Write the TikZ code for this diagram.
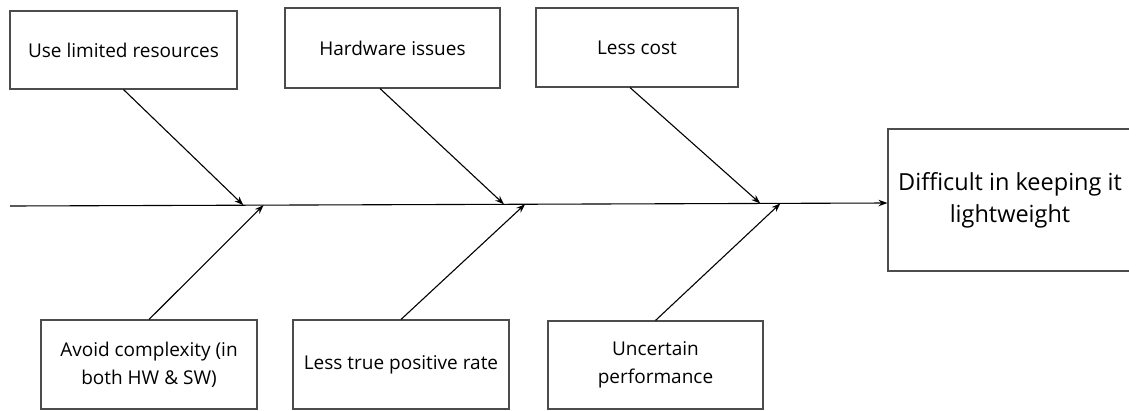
\documentclass[tikz,border=0pt]{standalone}
\usepackage{fontspec}
\setmainfont{Open Sans}
\usetikzlibrary{arrows.meta,positioning}

\begin{document}
\begin{tikzpicture}[
    x=1pt, y=-1pt,
    box/.style={rectangle, draw=black!70, line width=1.1pt, align=center, inner sep=0pt, font=\fontsize{19}{28}\selectfont},
    arrow/.style={->,>={Stealth[length=9pt,width=6.5pt]}, line width=1.1pt}
]
    \useasboundingbox (0,0) rectangle (1129,410);

    % causes above the spine
    \node[box, minimum width=227pt, minimum height=78pt] (res) at (123.5,50) {Use limited resources};
    \node[box, minimum width=215pt, minimum height=80pt] (hw) at (392.5,48) {Hardware issues};
    \node[box, minimum width=202pt, minimum height=79pt] (cost) at (637,47.5) {Less cost};

    % causes below the spine
    \node[box, minimum width=216pt, minimum height=89pt] (cplx) at (149,364.5) {Avoid complexity (in\\both HW \& SW)};
    \node[box, minimum width=216pt, minimum height=89pt] (tpr) at (401,364.5) {Less true positive rate};
    \node[box, minimum width=215pt, minimum height=88pt] (perf) at (655.5,365) {Uncertain\\performance};

    % effect
    \node[box, font=\fontsize{23.5}{32}\selectfont, minimum width=244pt, minimum height=142pt] (goal) at (1010,200) {Difficult in keeping it\\lightweight};

    % spine
    \coordinate (tail) at (10,206);
    \coordinate (head) at ([yshift=-3pt]goal.west);
    \draw[arrow] (tail) -- (head);
    \path (tail) -- (head)
        coordinate[pos=0.266] (j1)
        coordinate[pos=0.563] (j2)
        coordinate[pos=0.855] (j3)
        coordinate[pos=0.289] (j4)
        coordinate[pos=0.587] (j5)
        coordinate[pos=0.878] (j6);

    \draw[arrow] (res.south) -- (j1);
    \draw[arrow] ([xshift=-12.5pt]hw.south) -- (j2);
    \draw[arrow] ([xshift=-7pt]cost.south) -- (j3);
    \draw[arrow] (cplx.north) -- (j4);
    \draw[arrow] (tpr.north) -- (j5);
    \draw[arrow] (perf.north) -- (j6);
\end{tikzpicture}
\end{document}
